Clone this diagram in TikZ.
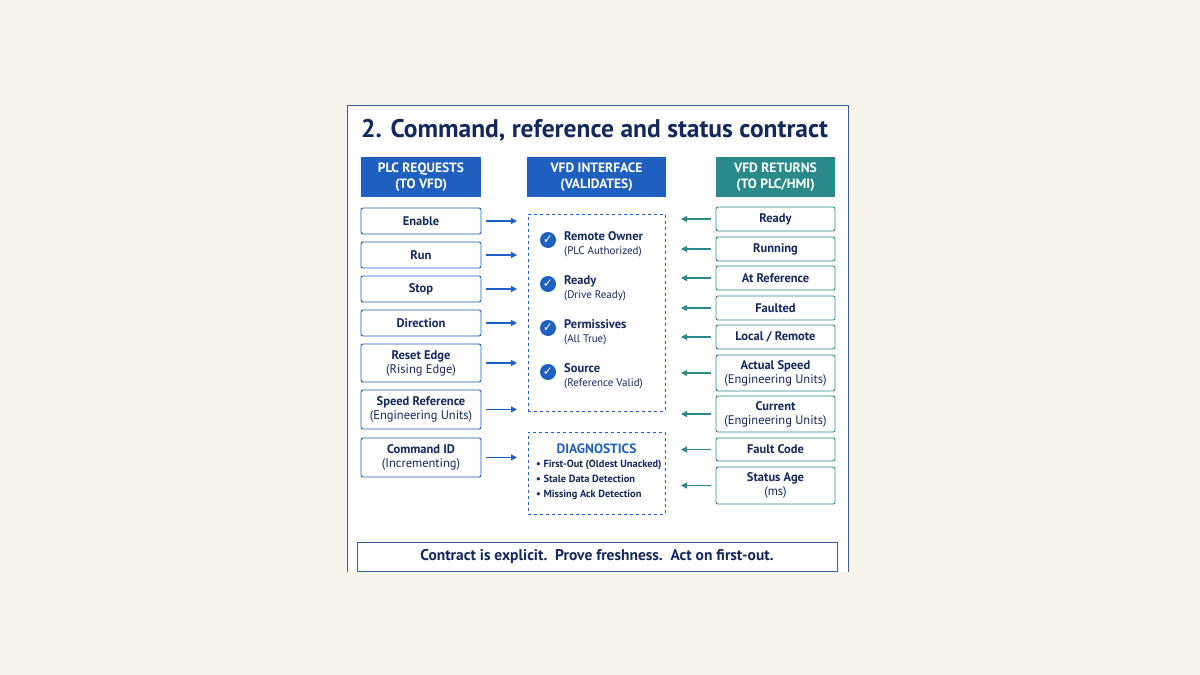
\documentclass[tikz,border=0pt]{standalone}
\usepackage{fontspec}
\setmainfont{PT Sans}
\newfontfamily\symf{DejaVu Sans}
\usetikzlibrary{arrows.meta}
\definecolor{bg}{HTML}{F7F4EE}
\definecolor{navy}{HTML}{14285E}
\definecolor{pblue}{HTML}{1F5FBF}
\definecolor{teal}{HTML}{2A8A8A}
\definecolor{frame}{HTML}{3A5BA0}
\begin{document}
\begin{tikzpicture}[x=1pt,y=-1pt,
  lbox/.style={draw=pblue,line width=0.9pt,rounded corners=2pt,fill=white,text=navy,font=\fontsize{12.5}{14}\selectfont\bfseries,align=center,inner sep=0pt},
  rbox/.style={draw=teal,line width=0.9pt,rounded corners=2pt,fill=white,text=navy,font=\fontsize{12.5}{14}\selectfont\bfseries,align=center,inner sep=0pt},
  hdr/.style={fill=#1,text=white,font=\fontsize{13.5}{16}\selectfont\bfseries,align=center,inner sep=0pt},
  larr/.style={draw=pblue,line width=1.2pt,-{Triangle[length=6pt,width=6pt]}},
  rarr/.style={draw=teal,line width=1.2pt,-{Triangle[length=6pt,width=6pt]}},
  dbox/.style={draw=pblue,dashed,line width=0.8pt,fill=white},
  chk/.style={circle,fill=pblue,minimum size=16pt,inner sep=0pt},
  itm/.style={anchor=north west,text=navy,font=\fontsize{12.5}{14}\selectfont\bfseries,align=left,inner sep=0pt}]
\fill[bg] (0,0) rectangle (1200,675);
\useasboundingbox (0,0) rectangle (1200,675);
\fill[white] (347,105) rectangle (848,572);
\draw[frame,line width=0.8pt] (347,572) -- (347,105) -- (848,105) -- (848,572);
\node[anchor=west,text=navy,font=\fontsize{25.5}{30}\selectfont\bfseries,inner sep=0pt] (title) at (361,130) {2. Command, reference and status contract};
% headers
\node[hdr=pblue,minimum width=120pt,minimum height=40pt] (h1) at (421,177) {PLC REQUESTS\\(TO VFD)};
\node[hdr=pblue,minimum width=139pt,minimum height=40pt] (h2) at (596.5,177) {VFD INTERFACE\\(VALIDATES)};
\node[hdr=teal,minimum width=119pt,minimum height=40pt] (h3) at (775.5,177) {VFD RETURNS\\(TO PLC/HMI)};
% center boxes
\node[dbox,minimum width=137pt,minimum height=197pt] (val) at (596.5,312.5) {};
\node[dbox,minimum width=137pt,minimum height=82pt] (diag) at (596.5,473) {};
\foreach \y/\a/\b [count=\i] in {240/Remote Owner/PLC Authorized,284/Ready/Drive Ready,328/Permissives/All True,372/Source/Reference Valid}{
  \node[chk] (c\i) at (548,\y) {\textcolor{white}{\symf\fontsize{12}{12}\selectfont\bfseries ✓}};
  \node[itm] (t\i) at (564,\y-9) {\a\\{\fontsize{11}{14}\selectfont\mdseries(\b)}};
}
\node[text=pblue,font=\fontsize{13.5}{15}\selectfont\bfseries,inner sep=0pt] (dt) at (596.5,449) {DIAGNOSTICS};
\node[itm,font=\fontsize{10.4}{15}\selectfont\bfseries] (dl) at (536,460) {• First-Out (Oldest Unacked)\\• Stale Data Detection\\• Missing Ack Detection};
% left boxes
\foreach \t/\b/\n in {208/234/Enable,242/268/Run,276/302/Stop,310/336/Direction,344/382/{Reset Edge\\{\mdseries(Rising Edge)}},390/429/{Speed Reference\\{\mdseries(Engineering Units)}},438/477/{Command ID\\{\mdseries(Incrementing)}}}{
  \node[lbox,minimum width=120pt,minimum height=\b-\t] (l\t) at (421,{(\t+\b)/2}) {\n};
  \coordinate (la\t) at (486,{(\t+\b)/2});
  \coordinate (lb\t) at (517,{(\t+\b)/2});
  \draw[larr] (la\t) -- (lb\t);
}
% right boxes
\foreach \t/\b/\n in {207/231/Ready,237/261/Running,266/290/At Reference,296/320/Faulted,325/349/{Local {/} Remote},355/391/{Actual Speed\\{\mdseries(Engineering Units)}},396/432/{Current\\{\mdseries(Engineering Units)}},438/461/Fault Code,467/504/{Status Age\\{\mdseries(ms)}}}{
  \node[rbox,minimum width=119pt,minimum height=\b-\t] (r\t) at (775.5,{(\t+\b)/2}) {\n};
  \coordinate (ra\t) at (711,{(\t+\b)/2});
  \coordinate (rb\t) at (681,{(\t+\b)/2});
  \draw[rarr] (ra\t) -- (rb\t);
}
\node[draw=frame,line width=1pt,fill=white,minimum width=480pt,minimum height=29pt,text=navy,font=\fontsize{15.5}{18}\selectfont\bfseries,inner sep=0pt] (foot) at (597,556.5) {Contract is explicit.\ \ Prove freshness.\ \ Act on first-out.};
\end{tikzpicture}
\end{document}
